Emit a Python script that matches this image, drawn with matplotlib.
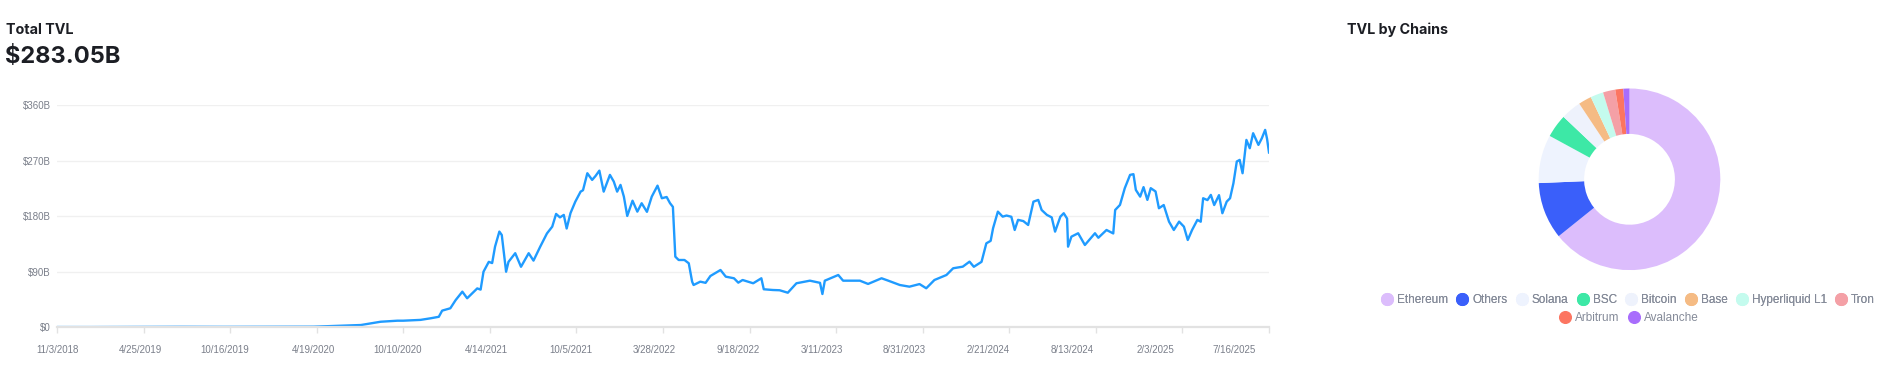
import matplotlib
matplotlib.use("Agg")
import matplotlib.pyplot as plt
import matplotlib.dates as mdates
from matplotlib.lines import Line2D
import numpy as np
import pandas as pd

# ---------------- data ----------------
dates = [
    "2018-11-02", "2019-01-15", "2019-04-25", "2019-07-20", "2019-10-16", "2020-01-15",
    "2020-03-20", "2020-04-19", "2020-06-14", "2020-07-26", "2020-09-05", "2020-10-10",
    "2020-10-22", "2020-11-27", "2020-12-18", "2021-01-04", "2021-01-11", "2021-01-28",
    "2021-02-08", "2021-02-22", "2021-03-04", "2021-03-25", "2021-04-01", "2021-04-07",
    "2021-04-18", "2021-04-25", "2021-05-01", "2021-05-10", "2021-05-15", "2021-05-24",
    "2021-05-29", "2021-06-12", "2021-06-24", "2021-07-10", "2021-07-20", "2021-08-03",
    "2021-08-17", "2021-08-28", "2021-09-05", "2021-09-13", "2021-09-21", "2021-09-27",
    "2021-10-05", "2021-10-15", "2021-10-26", "2021-10-31", "2021-11-09", "2021-11-19",
    "2021-11-26", "2021-12-04", "2021-12-13", "2021-12-26", "2022-01-03", "2022-01-10",
    "2022-01-17", "2022-01-24", "2022-01-31", "2022-02-11", "2022-02-21", "2022-03-02",
    "2022-03-13", "2022-03-23", "2022-04-04", "2022-04-13", "2022-04-23", "2022-04-30",
    "2022-05-06", "2022-05-11", "2022-05-18", "2022-05-30", "2022-06-08", "2022-06-15",
    "2022-06-18", "2022-07-02", "2022-07-13", "2022-07-23", "2022-08-13", "2022-08-24",
    "2022-09-10", "2022-09-19", "2022-09-28", "2022-10-20", "2022-11-06", "2022-11-11",
    "2022-11-30", "2022-12-14", "2022-12-31", "2023-01-18", "2023-02-15", "2023-03-08",
    "2023-03-13", "2023-03-18", "2023-04-15", "2023-04-25", "2023-05-30", "2023-06-16",
    "2023-07-14", "2023-07-28", "2023-08-21", "2023-09-10", "2023-10-01", "2023-10-15",
    "2023-11-01", "2023-11-26", "2023-12-10", "2023-12-30", "2024-01-13", "2024-01-22",
    "2024-02-07", "2024-02-17", "2024-02-26", "2024-03-02", "2024-03-12", "2024-03-22",
    "2024-03-30", "2024-04-09", "2024-04-16", "2024-04-23", "2024-05-04", "2024-05-14",
    "2024-05-25", "2024-06-04", "2024-06-11", "2024-06-22", "2024-07-02", "2024-07-09",
    "2024-07-20", "2024-07-27", "2024-08-03", "2024-08-05", "2024-08-12", "2024-08-26",
    "2024-09-09", "2024-09-23", "2024-09-30", "2024-10-07", "2024-10-24", "2024-11-07",
    "2024-11-11", "2024-11-21", "2024-12-01", "2024-12-12", "2024-12-19", "2024-12-24",
    "2025-01-02", "2025-01-09", "2025-01-17", "2025-01-24", "2025-02-03", "2025-02-10",
    "2025-02-20", "2025-03-03", "2025-03-13", "2025-03-24", "2025-04-03", "2025-04-11",
    "2025-04-20", "2025-05-01", "2025-05-08", "2025-05-13", "2025-05-22", "2025-05-29",
    "2025-06-05", "2025-06-15", "2025-06-22", "2025-07-01", "2025-07-08", "2025-07-15",
    "2025-07-22", "2025-07-28", "2025-08-03", "2025-08-11", "2025-08-18", "2025-08-25",
    "2025-09-05", "2025-09-12", "2025-09-19", "2025-09-23", "2025-09-27",
]
tvl_billion = [
    0.4, 0.4, 0.6, 0.8, 0.7, 0.8,
    0.9, 1.0, 2.5, 3.7, 9.0, 10.7,
    10.7, 12.0, 14.6, 17.0, 27.0, 30.8,
    44.0, 57.7, 47.0, 63.0, 61.0, 90.0,
    106.0, 104.0, 130.6, 155.0, 149.5, 90.0,
    106.0, 120.0, 98.0, 120.0, 108.0, 130.6,
    152.0, 163.0, 183.6, 178.0, 182.0, 160.0,
    185.0, 203.5, 219.7, 222.0, 249.5, 238.7,
    245.0, 253.7, 219.7, 246.8, 236.0, 219.7,
    230.6, 211.6, 180.3, 205.0, 187.3, 200.9,
    187.0, 211.6, 229.4, 209.0, 211.0, 201.0,
    195.0, 114.4, 109.0, 109.0, 103.7, 73.9,
    68.5, 73.9, 72.0, 83.1, 92.8, 82.0,
    79.4, 72.3, 76.6, 71.3, 79.4, 61.6,
    60.4, 60.0, 56.0, 71.3, 75.5, 72.0,
    53.9, 75.5, 84.7, 75.5, 75.5, 70.2,
    79.4, 75.5, 68.5, 65.8, 70.0, 63.2,
    76.6, 84.7, 95.6, 98.2, 106.3, 98.0,
    106.0, 136.0, 140.0, 160.4, 187.3, 179.2,
    181.0, 179.0, 157.6, 174.0, 172.0, 165.7,
    203.5, 206.3, 190.0, 182.0, 178.0, 154.9,
    179.2, 184.7, 176.0, 130.6, 146.8, 152.3,
    133.3, 146.0, 152.3, 145.0, 157.6, 152.0,
    190.0, 198.2, 225.3, 246.8, 248.0, 222.5,
    211.6, 227.0, 206.3, 225.3, 220.0, 192.8,
    198.0, 171.1, 157.6, 171.1, 163.0, 141.4,
    157.6, 173.9, 171.0, 209.0, 206.0, 214.4,
    198.0, 214.0, 184.7, 203.5, 209.0, 233.3,
    268.5, 271.1, 249.5, 303.5, 290.0, 314.3,
    295.4, 306.0, 319.7, 305.0, 283.05,
]
x_label_dates = [
    "2018-11-03", "2019-04-25", "2019-10-16", "2020-04-19", "2020-10-10",
    "2021-04-14", "2021-10-05", "2022-03-28", "2022-09-18", "2023-03-11",
    "2023-08-31", "2024-02-21", "2024-08-13", "2025-02-03", "2025-07-16",
]
x_labels = [
    "11/3/2018", "4/25/2019", "10/16/2019", "4/19/2020", "10/10/2020",
    "4/14/2021", "10/5/2021", "3/28/2022", "9/18/2022", "3/11/2023",
    "8/31/2023", "2/21/2024", "8/13/2024", "2/3/2025", "7/16/2025",
]
y_ticks = [0, 90, 180, 270, 360]
y_labels = ["$0", "$90B", "$180B", "$270B", "$360B"]

chains = ["Ethereum", "Others", "Solana", "BSC", "Bitcoin", "Base",
          "Hyperliquid L1", "Tron", "Arbitrum", "Avalanche"]
chain_tvl = [181.7, 28.6, 24.3, 11.7, 10.2, 6.6, 6.5, 6.2, 4.0, 3.1]
chain_colors = ["#dcbdfc", "#3a5ffa", "#eef3fe", "#3de8a6", "#eef2fc", "#f5bb84",
                "#c4fbee", "#f4a0a6", "#fc7561", "#a86dfc"]

total_label = "$283.05B"

# ---------------- figure ----------------
W, H = 1887, 375
fig = plt.figure(figsize=(W / 100, H / 100), dpi=100)
fig.patch.set_facecolor("white")

small_font = "Liberation Sans"
title_font = "Inter"
label_color = "#7a7f8a"

fig.text(6 / W, 1 - 30 / H, "Total TVL", fontsize=10.3, fontweight="bold",
         family=title_font, color="#1c1e24", va="center", ha="left")
fig.text(5 / W, 1 - 57 / H, total_label, fontsize=17, fontweight="bold",
         family=title_font, color="#1c1e24", va="center", ha="left")
fig.text(1347 / W, 1 - 30 / H, "TVL by Chains", fontsize=10.3, fontweight="bold",
         family=title_font, color="#1c1e24", va="center", ha="left")

# line chart
x0, x1 = 57.1, 1269.0
ytop, ybot = 105.0, 327.3
ax = fig.add_axes([x0 / W, 1 - ybot / H, (x1 - x0) / W, (ybot - ytop) / H])
xd = pd.to_datetime(dates)
ax.plot(xd, tvl_billion, color="#1f9bff", lw=1.7, solid_joinstyle="round")

xmin = mdates.date2num(pd.Timestamp("2018-11-02"))
xmax = mdates.date2num(pd.Timestamp("2025-09-27"))
ax.set_xlim(xmin, xmax)
ax.set_ylim(0, 360)
ax.set_yticks(y_ticks)
ax.set_yticklabels(y_labels)
ax.set_xticks(mdates.date2num(pd.to_datetime(x_label_dates)))
ax.set_xticklabels(x_labels)
ax.set_xticks(np.linspace(xmin, xmax, 15), minor=True)

for side in ["top", "right", "left"]:
    ax.spines[side].set_visible(False)
ax.spines["bottom"].set_color("#e2e2e2")
ax.spines["bottom"].set_linewidth(1.6)
ax.grid(axis="y", color="#f0f0f0", lw=1.0)
ax.set_axisbelow(True)
ax.tick_params(axis="y", length=0, pad=4.6, labelsize=7, labelcolor=label_color)
ax.tick_params(axis="x", which="major", length=0, pad=12.5, labelsize=7,
               labelcolor=label_color)
ax.tick_params(axis="x", which="minor", length=4.5, width=1.0, color="#e2e2e2")
for lab in ax.get_xticklabels() + ax.get_yticklabels():
    lab.set_family(small_font)

# donut
cx, cy, R = 1629.5, 179.3, 90.8
pax = fig.add_axes([(cx - R) / W, 1 - (cy + R) / H, 2 * R / W, 2 * R / H])
pax.pie(chain_tvl, colors=chain_colors, startangle=90, counterclock=False,
        radius=1.0, wedgeprops=dict(width=0.5, linewidth=0))
pax.set_xlim(-1, 1)
pax.set_ylim(-1, 1)
pax.set_aspect("equal")
pax.axis("off")

handles = [Line2D([], [], marker="o", linestyle="none", markersize=8.4,
                  markerfacecolor=c, markeredgecolor=c) for c in chain_colors]
legend_kw = dict(loc="center", frameon=False, handlelength=1.0, handletextpad=0.35,
                 columnspacing=0.7, borderpad=0, borderaxespad=0,
                 prop={"family": small_font, "size": 8.5}, labelcolor="#858b99")
leg1 = fig.legend(handles[:8], chains[:8], ncol=8,
                  bbox_to_anchor=(1628 / W, 1 - 300 / H), **legend_kw)
fig.add_artist(leg1)
leg2 = fig.legend(handles[8:], chains[8:], ncol=2,
                  bbox_to_anchor=(1629 / W, 1 - 317.7 / H), **legend_kw)

fig.savefig("out.png", dpi=100, facecolor="white")
